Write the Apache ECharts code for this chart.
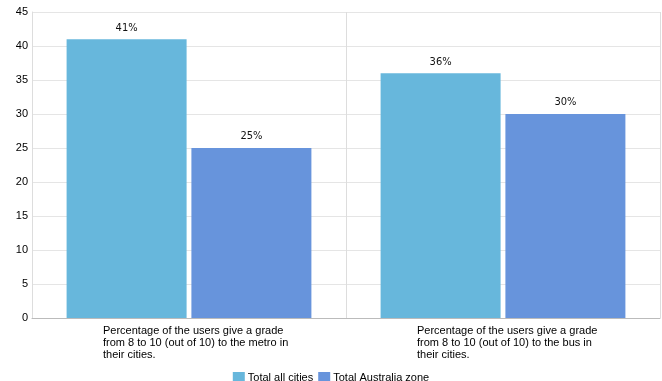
<!DOCTYPE html>
<html><head><meta charset="utf-8">
<script src="https://cdn.jsdelivr.net/npm/echarts@6/dist/echarts.min.js"></script>
<style>html,body{margin:0;padding:0;background:#fff}#c{width:662px;height:381px}</style>
</head><body><div id="c"></div>
<script>
const categories = [
  ["Percentage of the users give a grade", "from 8 to 10 (out of 10) to the metro in", "their cities."],
  ["Percentage of the users give a grade", "from 8 to 10 (out of 10) to the bus in", "their cities."]
];
const seriesNames = ["Total all cities", "Total Australia zone"];
const allCities = [41, 36];
const australiaZone = [25, 30];
const yTicks = { min: 0, max: 45, interval: 5 };
const colors = ["#67b7dc", "#6794dc"];

const chart = echarts.init(document.getElementById('c'), null, {renderer: 'canvas'});
const catNames = categories.map(l => l.join('\n'));
const mkSeries = (name, data, color) => ({
  name, type: 'bar', data, barWidth: 120, barGap: '4%',
  itemStyle: { color },
  label: { show: true, position: 'top', distance: 6, formatter: '{c}%',
    fontFamily: '"DejaVu Sans Condensed", "DejaVu Sans", sans-serif', fontSize: 11, color: '#111' }
});
chart.setOption({
  animation: false,
  textStyle: { fontFamily: 'Liberation Sans' },
  grid: { left: 32, right: 2, top: 12, bottom: 63 },
  legend: { top: 367, left: 'center', padding: 5, itemWidth: 12, itemHeight: 12, itemGap: 5,
    icon: 'rect', textStyle: { fontSize: 11, color: '#000', padding: [0,0,0,-2] }, data: seriesNames },
  xAxis: {
    type: 'category', data: catNames,
    axisLine: { lineStyle: { color: '#bbb' } },
    axisTick: { show: false },
    splitLine: { show: true, lineStyle: { color: '#ddd' } },
    axisLabel: {
      margin: 7, interval: 0,
      formatter: v => v.split('\n').map(s => '{a|' + s + '}').join('\n'),
      rich: { a: { align: 'left', width: 172, fontSize: 11, lineHeight: 12, color: '#000' } }
    }
  },
  yAxis: {
    type: 'value', min: yTicks.min, max: yTicks.max, interval: yTicks.interval,
    axisLine: { show: true, lineStyle: { color: '#ddd' } },
    axisTick: { show: false },
    splitLine: { lineStyle: { color: '#e5e5e5' } },
    axisLabel: { fontSize: 11, color: '#000', margin: 4 }
  },
  series: [
    mkSeries(seriesNames[0], allCities, colors[0]),
    mkSeries(seriesNames[1], australiaZone, colors[1])
  ]
});
</script></body></html>
